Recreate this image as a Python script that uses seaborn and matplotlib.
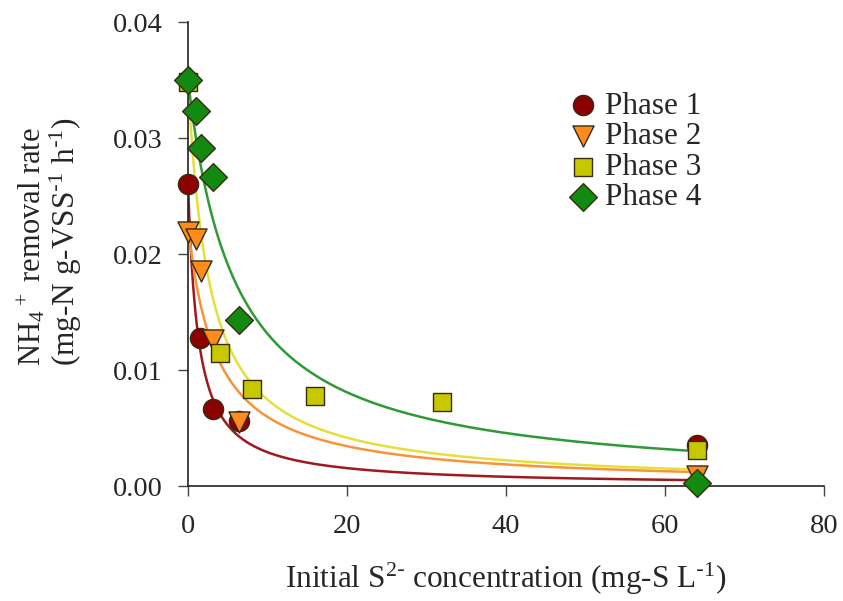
import numpy as np
import pandas as pd
import matplotlib
matplotlib.use("Agg")
import matplotlib.pyplot as plt
import seaborn as sns

# Measured removal rates for each operating phase
phases = ["Phase 1", "Phase 2", "Phase 3", "Phase 4"]
p1_s = [0, 1.5, 3.2, 6.4, 64]
p1_r = [0.0260, 0.0128, 0.0066, 0.0056, 0.0035]
p2_s = [0, 1.0, 1.6, 3.2, 6.4, 64]
p2_r = [0.0219, 0.0213, 0.0185, 0.0126, 0.0055, 0.0009]
p3_s = [0, 4, 8, 16, 32, 64]
p3_r = [0.0348, 0.0115, 0.0084, 0.0078, 0.0072, 0.0031]
p4_s = [0, 1.0, 1.6, 3.2, 6.4, 64]
p4_r = [0.0350, 0.0323, 0.0291, 0.0266, 0.0143, 0.0003]

# Fitted inhibition curves r = r0 / (1 + S / K)
fit_r0 = [0.0262, 0.0225, 0.0350, 0.0350]
fit_k = [1.25, 3.6, 2.7, 6.0]

x_ticks = [0, 20, 40, 60, 80]
y_ticks = [0, 0.01, 0.02, 0.03, 0.04]
y_tick_labels = ["0.00", "0.01", "0.02", "0.03", "0.04"]

marker_colors = ["#8B0000", "#FF8C1A", "#C8C800", "#128A12"]
line_colors = ["#9E1A1E", "#F7943A", "#E3E03C", "#2E9A35"]
markers = ["o", "v", "s", "D"]
sizes = [210, 230, 170, 200]

rows = []
for name, s, r in zip(phases, [p1_s, p2_s, p3_s, p4_s], [p1_r, p2_r, p3_r, p4_r]):
    for si, ri in zip(s, r):
        rows.append({"S": si, "rate": ri, "Phase": name})
df = pd.DataFrame(rows)

s_grid = np.linspace(0, 64, 400)
fit_rows = []
for name, r0, k in zip(phases, fit_r0, fit_k):
    for sg in s_grid:
        fit_rows.append({"S": sg, "rate": r0 / (1 + sg / k), "Phase": name})
fit_df = pd.DataFrame(fit_rows)

sns.set_style("white")
plt.rcParams["font.family"] = ["Liberation Serif", "DejaVu Serif"]
plt.rcParams["mathtext.default"] = "regular"

fig = plt.figure(figsize=(8.43, 6.01), dpi=100)
ax = fig.add_axes([188 / 843, 1 - 486 / 601, (824 - 188) / 843, (486 - 22) / 601])

sns.lineplot(data=fit_df, x="S", y="rate", hue="Phase", palette=line_colors,
             hue_order=phases, ax=ax, legend=False, linewidth=1.8, sort=False)

for i, name in enumerate(phases):
    sub = df[df["Phase"] == name]
    sns.scatterplot(data=sub, x="S", y="rate", ax=ax, marker=markers[i],
                    color=marker_colors[i], s=sizes[i], edgecolor="#3a2a10",
                    linewidth=1.0, label=name, zorder=3 + i)
for coll in ax.collections:
    coll.set_clip_on(False)

ax.set_xlim(0, 80)
ax.set_ylim(0, 0.04)
ax.set_xticks(x_ticks)
ax.set_xticklabels([str(v) for v in x_ticks])
ax.set_yticks(y_ticks)
ax.set_yticklabels(y_tick_labels)
ax.tick_params(axis="both", which="major", labelsize=20.5, length=7, width=1,
               direction="out", color="#444444", left=True, bottom=True)
ax.tick_params(axis="y", pad=11)
ax.tick_params(axis="x", pad=13)
for side in ["top", "right"]:
    ax.spines[side].set_visible(False)
for side in ["left", "bottom"]:
    ax.spines[side].set_color("#222222")
    ax.spines[side].set_linewidth(1.2)

ax.set_xlabel(r"Initial S$^{2\text{-}}$ concentration (mg-S L$^{\text{-}1}$)",
              fontsize=22.5, labelpad=16)
ax.set_ylabel("")
fig.text(32 / 843, 1 - 247 / 601, r"NH$_4$$^+$ removal rate", rotation=90,
         ha="center", va="center", fontsize=22)
fig.text(66 / 843, 1 - 242 / 601, r"(mg-N g-VSS$^{\text{-}1}$ h$^{\text{-}1}$)",
         rotation=90, ha="center", va="center", fontsize=22.5)

leg = ax.legend(loc="upper left", bbox_to_anchor=(0.5967, 0.85), frameon=False,
                fontsize=22.5, handlelength=1.0, handletextpad=0.2,
                labelspacing=0.05, borderpad=0, borderaxespad=0)

fig.savefig("out.png", dpi=100)
